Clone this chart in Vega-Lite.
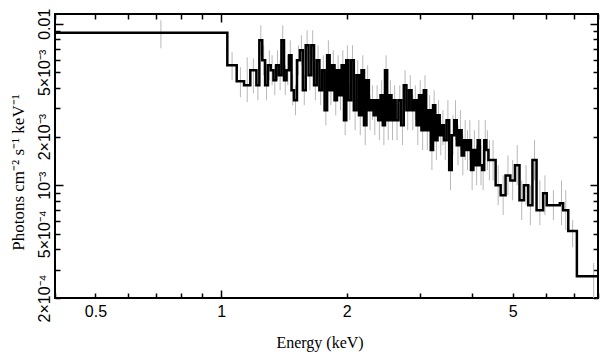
{
  "$schema": "https://vega.github.io/schema/vega-lite/v6.json",
  "width": 543,
  "height": 284,
  "autosize": "none",
  "padding": {"left": 55, "top": 14, "right": 11, "bottom": 62},
  "background": "white",
  "config": {
    "view": {"stroke": "black", "strokeWidth": 2},
    "axis": {
      "domain": false, "grid": false,
      "labelFont": "Liberation Sans", "labelFontSize": 16, "labelColor": "black",
      "titleFont": "Liberation Serif", "titleFontSize": 16, "titleFontWeight": "normal", "titleColor": "black",
      "tickColor": "black", "tickWidth": 1.5
    }
  },
  "data": {"values": [
    {"a":0.4,"b":1.035,"m":0.7175,"v":0.0088,"lo":0.00705,"hi":0.01051},
    {"a":1.035,"b":1.09,"m":1.0625,"v":0.00553,"lo":0.00447,"hi":0.00666},
    {"a":1.09,"b":1.135,"m":1.1125,"v":0.0044,"lo":0.00351,"hi":0.00538},
    {"a":1.135,"b":1.175,"m":1.155,"v":0.00416,"lo":0.00327,"hi":0.0062},
    {"a":1.175,"b":1.215,"m":1.195,"v":0.00515,"lo":0.00371,"hi":0.00611},
    {"a":1.215,"b":1.235,"m":1.225,"v":0.00416,"lo":0.00336,"hi":0.00515},
    {"a":1.235,"b":1.255,"m":1.245,"v":0.0079,"lo":0.00638,"hi":0.00979},
    {"a":1.255,"b":1.275,"m":1.265,"v":0.00594,"lo":0.0048,"hi":0.00736},
    {"a":1.275,"b":1.295,"m":1.285,"v":0.00416,"lo":0.00336,"hi":0.00515},
    {"a":1.295,"b":1.315,"m":1.305,"v":0.00553,"lo":0.00447,"hi":0.00685},
    {"a":1.315,"b":1.335,"m":1.325,"v":0.00515,"lo":0.00416,"hi":0.00638},
    {"a":1.335,"b":1.355,"m":1.345,"v":0.00447,"lo":0.00361,"hi":0.00553},
    {"a":1.355,"b":1.375,"m":1.365,"v":0.00553,"lo":0.00447,"hi":0.00685},
    {"a":1.375,"b":1.395,"m":1.385,"v":0.0048,"lo":0.00387,"hi":0.00594},
    {"a":1.395,"b":1.415,"m":1.405,"v":0.0079,"lo":0.00638,"hi":0.00979},
    {"a":1.415,"b":1.435,"m":1.425,"v":0.00447,"lo":0.00361,"hi":0.00553},
    {"a":1.435,"b":1.455,"m":1.445,"v":0.00515,"lo":0.00416,"hi":0.00638},
    {"a":1.455,"b":1.475,"m":1.465,"v":0.00638,"lo":0.00515,"hi":0.0079},
    {"a":1.475,"b":1.495,"m":1.485,"v":0.00387,"lo":0.00313,"hi":0.0048},
    {"a":1.495,"b":1.52,"m":1.5075,"v":0.00336,"lo":0.00271,"hi":0.00416},
    {"a":1.52,"b":1.545,"m":1.5325,"v":0.00594,"lo":0.0048,"hi":0.00736},
    {"a":1.545,"b":1.57,"m":1.5575,"v":0.00685,"lo":0.00553,"hi":0.00849},
    {"a":1.57,"b":1.595,"m":1.5825,"v":0.00387,"lo":0.00313,"hi":0.0048},
    {"a":1.595,"b":1.62,"m":1.6075,"v":0.00736,"lo":0.00594,"hi":0.00912},
    {"a":1.62,"b":1.645,"m":1.6325,"v":0.0048,"lo":0.00387,"hi":0.00594},
    {"a":1.645,"b":1.67,"m":1.6575,"v":0.00736,"lo":0.00594,"hi":0.00912},
    {"a":1.67,"b":1.695,"m":1.6825,"v":0.00416,"lo":0.00336,"hi":0.00515},
    {"a":1.695,"b":1.72,"m":1.7075,"v":0.00594,"lo":0.0048,"hi":0.00736},
    {"a":1.72,"b":1.745,"m":1.7325,"v":0.00387,"lo":0.00313,"hi":0.0048},
    {"a":1.745,"b":1.77,"m":1.7575,"v":0.00515,"lo":0.00416,"hi":0.00638},
    {"a":1.77,"b":1.795,"m":1.7825,"v":0.00291,"lo":0.00235,"hi":0.00361},
    {"a":1.795,"b":1.82,"m":1.8075,"v":0.00638,"lo":0.00515,"hi":0.0079},
    {"a":1.82,"b":1.845,"m":1.8325,"v":0.00387,"lo":0.00313,"hi":0.0048},
    {"a":1.845,"b":1.87,"m":1.8575,"v":0.00553,"lo":0.00447,"hi":0.00685},
    {"a":1.87,"b":1.895,"m":1.8825,"v":0.00336,"lo":0.00271,"hi":0.00416},
    {"a":1.895,"b":1.92,"m":1.9075,"v":0.00515,"lo":0.00416,"hi":0.00638},
    {"a":1.92,"b":1.945,"m":1.9325,"v":0.00361,"lo":0.00291,"hi":0.00447},
    {"a":1.945,"b":1.97,"m":1.9575,"v":0.00553,"lo":0.00447,"hi":0.00685},
    {"a":1.97,"b":1.995,"m":1.9825,"v":0.00253,"lo":0.00204,"hi":0.00313},
    {"a":1.995,"b":2.02,"m":2.0075,"v":0.00594,"lo":0.0048,"hi":0.00736},
    {"a":2.02,"b":2.05,"m":2.035,"v":0.00336,"lo":0.00253,"hi":0.00416},
    {"a":2.05,"b":2.08,"m":2.065,"v":0.00594,"lo":0.00447,"hi":0.00736},
    {"a":2.08,"b":2.11,"m":2.095,"v":0.00291,"lo":0.00219,"hi":0.00361},
    {"a":2.11,"b":2.14,"m":2.125,"v":0.0048,"lo":0.00361,"hi":0.00594},
    {"a":2.14,"b":2.17,"m":2.155,"v":0.00271,"lo":0.00204,"hi":0.00336},
    {"a":2.17,"b":2.2,"m":2.185,"v":0.00515,"lo":0.00387,"hi":0.00638},
    {"a":2.2,"b":2.23,"m":2.215,"v":0.00235,"lo":0.00177,"hi":0.00291},
    {"a":2.23,"b":2.26,"m":2.245,"v":0.00447,"lo":0.00336,"hi":0.00553},
    {"a":2.26,"b":2.29,"m":2.275,"v":0.00291,"lo":0.00219,"hi":0.00361},
    {"a":2.29,"b":2.32,"m":2.305,"v":0.00336,"lo":0.00253,"hi":0.00416},
    {"a":2.32,"b":2.35,"m":2.335,"v":0.00271,"lo":0.00204,"hi":0.00336},
    {"a":2.35,"b":2.38,"m":2.365,"v":0.00336,"lo":0.00253,"hi":0.00416},
    {"a":2.38,"b":2.41,"m":2.395,"v":0.00253,"lo":0.0019,"hi":0.00313},
    {"a":2.41,"b":2.44,"m":2.425,"v":0.00361,"lo":0.00271,"hi":0.00447},
    {"a":2.44,"b":2.47,"m":2.455,"v":0.00235,"lo":0.00177,"hi":0.00291},
    {"a":2.47,"b":2.5,"m":2.485,"v":0.00515,"lo":0.00387,"hi":0.00638},
    {"a":2.5,"b":2.53,"m":2.515,"v":0.00253,"lo":0.0019,"hi":0.00313},
    {"a":2.53,"b":2.56,"m":2.545,"v":0.00361,"lo":0.00271,"hi":0.00447},
    {"a":2.56,"b":2.59,"m":2.575,"v":0.00253,"lo":0.0019,"hi":0.00313},
    {"a":2.59,"b":2.62,"m":2.605,"v":0.00336,"lo":0.00253,"hi":0.00416},
    {"a":2.62,"b":2.66,"m":2.64,"v":0.00253,"lo":0.0019,"hi":0.00313},
    {"a":2.66,"b":2.7,"m":2.68,"v":0.00336,"lo":0.00253,"hi":0.00416},
    {"a":2.7,"b":2.74,"m":2.72,"v":0.00235,"lo":0.00177,"hi":0.00291},
    {"a":2.74,"b":2.78,"m":2.76,"v":0.00416,"lo":0.00313,"hi":0.00515},
    {"a":2.78,"b":2.82,"m":2.8,"v":0.00291,"lo":0.00219,"hi":0.00361},
    {"a":2.82,"b":2.86,"m":2.84,"v":0.00387,"lo":0.00291,"hi":0.0048},
    {"a":2.86,"b":2.9,"m":2.88,"v":0.00291,"lo":0.00219,"hi":0.00361},
    {"a":2.9,"b":2.94,"m":2.92,"v":0.00336,"lo":0.00253,"hi":0.00416},
    {"a":2.94,"b":2.98,"m":2.96,"v":0.00235,"lo":0.00177,"hi":0.00291},
    {"a":2.98,"b":3.02,"m":3.0,"v":0.00361,"lo":0.00271,"hi":0.00447},
    {"a":3.02,"b":3.06,"m":3.04,"v":0.00219,"lo":0.00165,"hi":0.00271},
    {"a":3.06,"b":3.1,"m":3.08,"v":0.00387,"lo":0.00291,"hi":0.0048},
    {"a":3.1,"b":3.14,"m":3.12,"v":0.00219,"lo":0.00165,"hi":0.00271},
    {"a":3.14,"b":3.18,"m":3.16,"v":0.00291,"lo":0.00219,"hi":0.00361},
    {"a":3.18,"b":3.22,"m":3.2,"v":0.00165,"lo":0.00124,"hi":0.00204},
    {"a":3.22,"b":3.26,"m":3.24,"v":0.00313,"lo":0.00235,"hi":0.00387},
    {"a":3.26,"b":3.3,"m":3.28,"v":0.0019,"lo":0.00143,"hi":0.00235},
    {"a":3.3,"b":3.34,"m":3.32,"v":0.00271,"lo":0.00204,"hi":0.00336},
    {"a":3.34,"b":3.38,"m":3.36,"v":0.00204,"lo":0.00153,"hi":0.00253},
    {"a":3.38,"b":3.42,"m":3.4,"v":0.00235,"lo":0.00177,"hi":0.00291},
    {"a":3.42,"b":3.47,"m":3.445,"v":0.0019,"lo":0.00143,"hi":0.00253},
    {"a":3.47,"b":3.52,"m":3.495,"v":0.00253,"lo":0.0019,"hi":0.00336},
    {"a":3.52,"b":3.57,"m":3.545,"v":0.00124,"lo":0.000931,"hi":0.00165},
    {"a":3.57,"b":3.62,"m":3.595,"v":0.00204,"lo":0.00153,"hi":0.00271},
    {"a":3.62,"b":3.67,"m":3.645,"v":0.00253,"lo":0.0019,"hi":0.00336},
    {"a":3.67,"b":3.72,"m":3.695,"v":0.00177,"lo":0.00133,"hi":0.00235},
    {"a":3.72,"b":3.77,"m":3.745,"v":0.00219,"lo":0.00165,"hi":0.00291},
    {"a":3.77,"b":3.82,"m":3.795,"v":0.00153,"lo":0.00115,"hi":0.00204},
    {"a":3.82,"b":3.87,"m":3.845,"v":0.0019,"lo":0.00143,"hi":0.00253},
    {"a":3.87,"b":3.92,"m":3.895,"v":0.00165,"lo":0.00124,"hi":0.00219},
    {"a":3.92,"b":3.97,"m":3.945,"v":0.0019,"lo":0.00143,"hi":0.00253},
    {"a":3.97,"b":4.02,"m":3.995,"v":0.00124,"lo":0.000931,"hi":0.00165},
    {"a":4.02,"b":4.07,"m":4.045,"v":0.00165,"lo":0.00124,"hi":0.00219},
    {"a":4.07,"b":4.12,"m":4.095,"v":0.00133,"lo":0.001,"hi":0.00177},
    {"a":4.12,"b":4.17,"m":4.145,"v":0.0019,"lo":0.00143,"hi":0.00253},
    {"a":4.17,"b":4.22,"m":4.195,"v":0.00133,"lo":0.001,"hi":0.00177},
    {"a":4.22,"b":4.27,"m":4.245,"v":0.00124,"lo":0.000931,"hi":0.00165},
    {"a":4.27,"b":4.32,"m":4.295,"v":0.0019,"lo":0.00143,"hi":0.00253},
    {"a":4.32,"b":4.37,"m":4.345,"v":0.00165,"lo":0.00124,"hi":0.00219},
    {"a":4.37,"b":4.42,"m":4.395,"v":0.00143,"lo":0.00107,"hi":0.0019},
    {"a":4.42,"b":4.548,"m":4.484,"v":0.00143,"lo":0.00107,"hi":0.0019},
    {"a":4.548,"b":4.676,"m":4.612,"v":0.001,"lo":0.000752,"hi":0.00133},
    {"a":4.676,"b":4.804,"m":4.74,"v":0.000867,"lo":0.000652,"hi":0.00115},
    {"a":4.804,"b":4.932,"m":4.868,"v":0.00115,"lo":0.000867,"hi":0.00153},
    {"a":4.932,"b":5.06,"m":4.996,"v":0.00107,"lo":0.000807,"hi":0.00143},
    {"a":5.06,"b":5.188,"m":5.124,"v":0.00133,"lo":0.001,"hi":0.00177},
    {"a":5.188,"b":5.316,"m":5.252,"v":0.000807,"lo":0.000607,"hi":0.00107},
    {"a":5.316,"b":5.444,"m":5.38,"v":0.001,"lo":0.000752,"hi":0.00133},
    {"a":5.444,"b":5.572,"m":5.508,"v":0.000752,"lo":0.000565,"hi":0.001},
    {"a":5.572,"b":5.7,"m":5.636,"v":0.00143,"lo":0.00107,"hi":0.0019},
    {"a":5.7,"b":5.91,"m":5.805,"v":0.0007,"lo":0.000565,"hi":0.00107},
    {"a":5.91,"b":6.03,"m":5.97,"v":0.000892,"lo":0.000652,"hi":0.00115},
    {"a":6.03,"b":6.48,"m":6.255,"v":0.000752,"lo":0.000607,"hi":0.000931},
    {"a":6.48,"b":6.6,"m":6.54,"v":0.000774,"lo":0.000565,"hi":0.00107},
    {"a":6.6,"b":6.79,"m":6.695,"v":0.0007,"lo":0.000526,"hi":0.000931},
    {"a":6.79,"b":7.12,"m":6.955,"v":0.000521,"lo":0.000413,"hi":0.000607},
    {"a":7.12,"b":8.5,"m":7.81,"v":0.000273,"lo":0.00018,"hi":0.000329},
    {"a":8.5,"v":0.000273}
  ]},
  "layer": [
    {
      "transform": [{"filter": "isValid(datum.m)"}],
      "mark": {"type": "rule", "color": "#b8b8b8", "strokeWidth": 1, "clip": true},
      "encoding": {
        "x": {"field": "m", "type": "quantitative",
              "scale": {"type": "log", "domain": [0.4, 8], "nice": false},
              "axis": {"orient": "bottom", "values": [0.5, 1, 2, 5], "ticks": false, "tickSize": 0,
                       "labelPadding": 5, "labelFlush": false, "labelOverlap": false,
                       "labelExpr": "datum.value < 0.7 ? '0.5' : datum.value < 1.5 ? '1' : datum.value < 3 ? '2' : '5'",
                       "title": "Energy (keV)", "titleX": 264.5, "titleY": 49, "titleBaseline": "alphabetic"}},
        "y": {"field": "lo", "type": "quantitative",
              "scale": {"type": "log", "domain": [0.0002, 0.0115], "nice": false},
              "axis": {"orient": "left", "values": [0.0002, 0.0005, 0.001, 0.002, 0.005, 0.01], "ticks": false, "tickSize": 0,
                       "labelAngle": -90, "labelAlign": "center", "labelBaseline": "alphabetic", "labelPadding": 6,
                       "labelFlush": false, "labelOverlap": false,
                       "labelExpr": "datum.value < 0.0003 ? '2×10⁻⁴' : datum.value < 0.0007 ? '5×10⁻⁴' : datum.value < 0.0015 ? '10⁻³' : datum.value < 0.003 ? '2×10⁻³' : datum.value < 0.007 ? '5×10⁻³' : '0.01'",
                       "title": "Photons cm⁻² s⁻¹ keV⁻¹", "titleFontSize": 17, "titleX": -32, "titleY": 158, "titleAngle": -90,
                       "titleBaseline": "alphabetic", "titleAlign": "center"}},
        "y2": {"field": "hi"}
      }
    },
    {
      "mark": {"type": "line", "interpolate": "step-after", "color": "black", "strokeWidth": 2.5, "clip": true},
      "encoding": {
        "x": {"field": "a", "type": "quantitative",
              "scale": {"type": "log", "domain": [0.4, 8], "nice": false},
              "axis": {"orient": "bottom", "values": [0.4, 0.5, 0.6, 0.7, 0.8, 0.9, 1, 2, 3, 4, 5, 6, 7, 8],
                       "labels": false, "title": null,
                       "tickSize": {"condition": {"test": "datum.value == 1", "value": -8}, "value": -5}}},
        "y": {"field": "v", "type": "quantitative",
              "scale": {"type": "log", "domain": [0.0002, 0.0115], "nice": false},
              "axis": {"orient": "left", "values": [0.0002, 0.0003, 0.0004, 0.0005, 0.0006, 0.0007, 0.0008, 0.0009, 0.001, 0.002, 0.003, 0.004, 0.005, 0.006, 0.007, 0.008, 0.009, 0.01],
                       "labels": false, "title": null,
                       "tickSize": {"condition": {"test": "datum.value == 0.001 || datum.value == 0.01", "value": -8}, "value": -5}}}
      }
    },
    {
      "mark": {"type": "point", "opacity": 0},
      "encoding": {
        "x": {"field": "a", "type": "quantitative",
              "scale": {"type": "log", "domain": [0.4, 8], "nice": false},
              "axis": {"orient": "top", "values": [0.4, 0.5, 0.6, 0.7, 0.8, 0.9, 1, 2, 3, 4, 5, 6, 7, 8],
                       "labels": false, "title": null,
                       "tickSize": {"condition": {"test": "datum.value == 1", "value": -8}, "value": -5}}},
        "y": {"field": "v", "type": "quantitative",
              "scale": {"type": "log", "domain": [0.0002, 0.0115], "nice": false},
              "axis": {"orient": "right", "values": [0.0002, 0.0003, 0.0004, 0.0005, 0.0006, 0.0007, 0.0008, 0.0009, 0.001, 0.002, 0.003, 0.004, 0.005, 0.006, 0.007, 0.008, 0.009, 0.01],
                       "labels": false, "title": null,
                       "tickSize": {"condition": {"test": "datum.value == 0.001 || datum.value == 0.01", "value": -8}, "value": -5}}}
      }
    }
  ],
  "resolve": {"axis": {"x": "independent", "y": "independent"}}
}
